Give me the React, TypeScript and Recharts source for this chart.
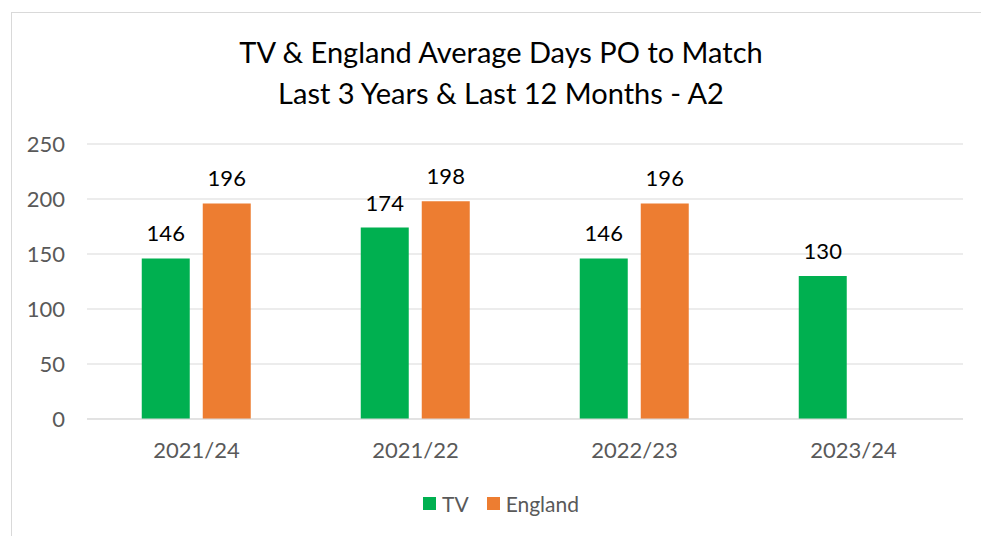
import { BarChart, Bar, XAxis, YAxis, CartesianGrid, LabelList } from 'recharts';

const categories = ['2021/24', '2021/22', '2022/23', '2023/24'];
const tvValues = [146, 174, 146, 130];
const englandValues: Array<number | null> = [196, 198, 196, null];
const yTicks = [0, 50, 100, 150, 200, 250];

const TV_GREEN = '#00b050';
const ENGLAND_ORANGE = '#ed7d31';
const FONT = 'Lato, "Open Sans", sans-serif';

const series = [
  { key: 'tv', name: 'TV', color: TV_GREEN },
  { key: 'england', name: 'England', color: ENGLAND_ORANGE },
];

const data = categories.map((period, i) => ({
  period,
  tv: tvValues[i],
  england: englandValues[i],
}));

export default function App() {
  return (
    <div
      style={{
        position: 'fixed',
        top: 0,
        left: 0,
        width: 981,
        height: 536,
        overflow: 'hidden',
        background: '#fff',
        fontFamily: FONT,
      }}
    >
      <div
        style={{
          position: 'absolute',
          left: 11,
          top: 12,
          width: 1000,
          height: 600,
          border: '1px solid #d9d9d9',
        }}
      />
      <div
        style={{
          position: 'absolute',
          left: 11,
          top: 31,
          width: 980,
          textAlign: 'center',
          fontSize: 29,
          lineHeight: '41px',
          color: '#000',
        }}
      >
        <div>TV &amp; England Average Days PO to Match</div>
        <div>Last 3 Years &amp; Last 12 Months - A2</div>
      </div>
      <div style={{ position: 'absolute', left: 0, top: 0 }}>
        <BarChart
          width={981}
          height={536}
          data={data}
          margin={{ top: 144, right: 18, bottom: 87, left: 17 }}
          barCategoryGap="25%"
          barGap={13}
        >
          <CartesianGrid horizontal vertical={false} stroke="#d9d9d9" />
          <XAxis
            dataKey="period"
            height={30}
            axisLine={{ stroke: '#d9d9d9' }}
            tickLine={false}
            tickSize={0}
            tickMargin={23}
            tick={{ fontSize: 22, fill: '#595959', fontFamily: FONT }}
          />
          <YAxis
            width={70}
            domain={[0, 250]}
            ticks={yTicks}
            axisLine={false}
            tickLine={false}
            tickSize={0}
            tickMargin={22}
            tick={{ fontSize: 22, fill: '#595959', fontFamily: FONT }}
          />
          {series.map((s) => (
            <Bar key={s.key} dataKey={s.key} name={s.name} fill={s.color} isAnimationActive={false}>
              <LabelList dataKey={s.key} position="top" offset={17} fill="#000" fontSize={22} fontFamily={FONT} />
            </Bar>
          ))}
        </BarChart>
      </div>
      {/* legend */}
      <div
        style={{
          position: 'absolute',
          left: 0,
          top: 490,
          width: 1002,
          height: 26,
          display: 'flex',
          justifyContent: 'center',
          alignItems: 'center',
        }}
      >
        {series.map((s, i) => (
          <div key={s.key} style={{ display: 'flex', alignItems: 'center', marginLeft: i === 0 ? 0 : 18 }}>
            <span style={{ width: 13, height: 13, background: s.color, display: 'inline-block', marginRight: 6 }} />
            <span style={{ color: '#595959', fontSize: 21 }}>{s.name}</span>
          </div>
        ))}
      </div>
    </div>
  );
}
